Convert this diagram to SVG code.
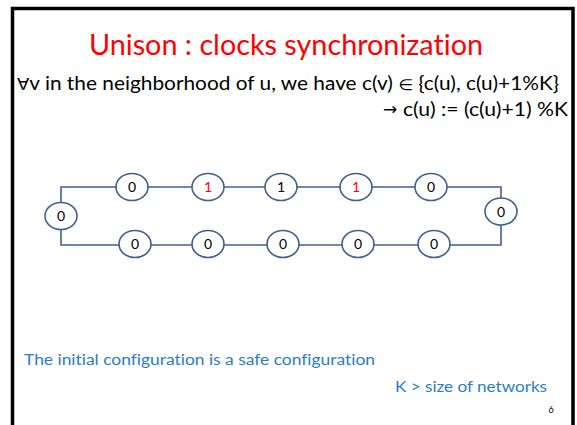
<svg xmlns="http://www.w3.org/2000/svg" width="577" height="425" viewBox="0 0 577 425">
<style>
.frame{fill:none;stroke:#000;stroke-width:3.5}
.n ellipse{fill:#fff;stroke:#3f6190;stroke-width:1.6}
.n text{font-family:Lato,"Liberation Sans",sans-serif;font-size:14px;text-anchor:middle;fill:#000}
.n text.r{fill:#ff0000}
.e{fill:none;stroke:#3f6190;stroke-width:1.6}
.t{font-family:Lato,"Open Sans","Liberation Sans",sans-serif;font-variant-ligatures:none}
.s{font-family:"DejaVu Sans",sans-serif}
</style>
<rect width="577" height="425" fill="#fff"/>
<path class="frame" d="M12.5 430 V8.5 H573 V430"/>
<text class="t" x="286" y="55" font-size="28" fill="#ff0000" text-anchor="middle" textLength="394" lengthAdjust="spacingAndGlyphs">Unison : clocks synchronization</text>
<text class="t" x="17" y="90" font-size="18.5" fill="#000" textLength="542" lengthAdjust="spacingAndGlyphs"><tspan class="s" font-size="16">∀</tspan>v in the neighborhood of u, we have c(v) <tspan class="s" font-size="15">∈</tspan> {c(u), c(u)+1%K}</text>
<text class="s" x="383" y="115" font-size="17" fill="#000">→</text>
<text class="t" x="403" y="116" font-size="18.5" fill="#000" textLength="165" lengthAdjust="spacingAndGlyphs">c(u) := (c(u)+1) %K</text>
<g id="connectors">
<path class="e" d="M61 203 V187 H116"/>
<path class="e" d="M148 187 H192"/>
<path class="e" d="M224 187 H265"/>
<path class="e" d="M297 187 H340"/>
<path class="e" d="M372 187 H415"/>
<path class="e" d="M447 187 H501 V198"/>
<path class="e" d="M61 229 V245 H119"/>
<path class="e" d="M151 245 H192"/>
<path class="e" d="M224 245 H267"/>
<path class="e" d="M299 245 H342"/>
<path class="e" d="M374 245 H418"/>
<path class="e" d="M450 245 H501 V225"/>
</g>
<g id="n0" class="n"><ellipse cx="61" cy="216" rx="16" ry="13.5"/><text x="61" y="221">0</text></g>
<g id="t1" class="n"><ellipse cx="132" cy="187" rx="16" ry="13.5"/><text x="132" y="192">0</text></g>
<g id="t2" class="n"><ellipse cx="208" cy="187" rx="16" ry="13.5"/><text class="r" x="208" y="192">1</text></g>
<g id="t3" class="n"><ellipse cx="281" cy="187" rx="16" ry="13.5"/><text x="281" y="192">1</text></g>
<g id="t4" class="n"><ellipse cx="356" cy="187" rx="16" ry="13.5"/><text class="r" x="356" y="192">1</text></g>
<g id="t5" class="n"><ellipse cx="431" cy="187" rx="16" ry="13.5"/><text x="431" y="192">0</text></g>
<g id="n6" class="n"><ellipse cx="501" cy="211.5" rx="16" ry="13.5"/><text x="501" y="216.5">0</text></g>
<g id="b1" class="n"><ellipse cx="135" cy="244" rx="16" ry="13.5"/><text x="135" y="249">0</text></g>
<g id="b2" class="n"><ellipse cx="208" cy="244" rx="16" ry="13.5"/><text x="208" y="249">0</text></g>
<g id="b3" class="n"><ellipse cx="283" cy="244" rx="16" ry="13.5"/><text x="283" y="249">0</text></g>
<g id="b4" class="n"><ellipse cx="358" cy="244" rx="16" ry="13.5"/><text x="358" y="249">0</text></g>
<g id="b5" class="n"><ellipse cx="434" cy="244" rx="16" ry="13.5"/><text x="434" y="249">0</text></g>
<text class="t" x="24" y="365" font-size="15.5" fill="#2a7dc7" textLength="351" lengthAdjust="spacingAndGlyphs">The initial configuration is a safe configuration</text>
<text class="t" x="395" y="392" font-size="15.5" fill="#2a7dc7" textLength="152" lengthAdjust="spacingAndGlyphs">K &gt; size of networks</text>
<text class="t" x="551" y="413" font-size="9" fill="#000" text-anchor="middle">6</text>
</svg>
